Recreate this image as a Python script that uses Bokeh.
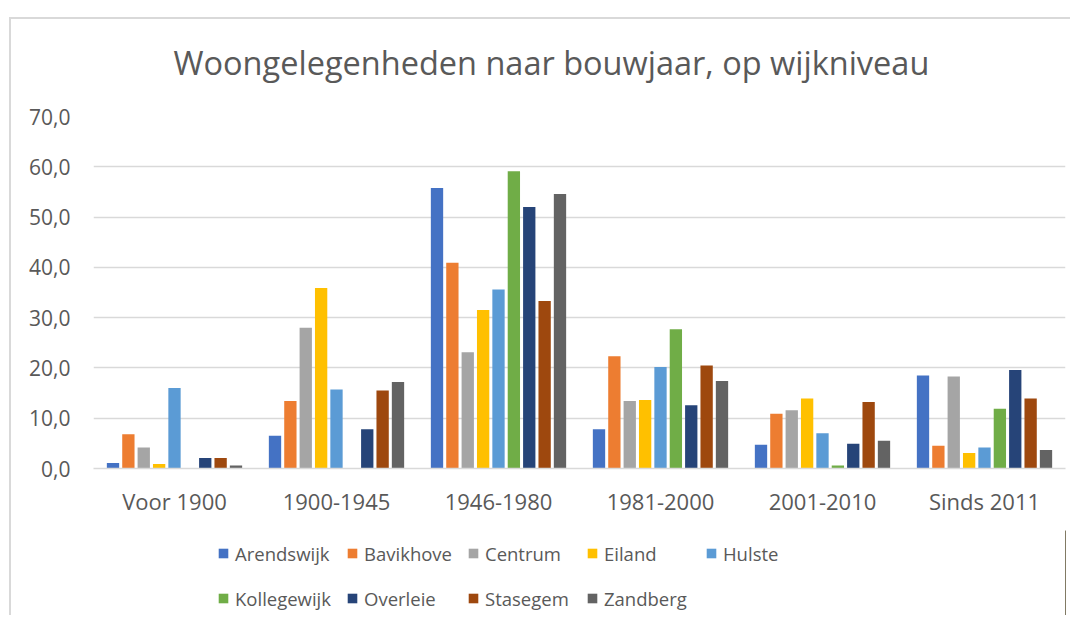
from bokeh.plotting import figure
from bokeh.models import FactorRange, Range1d, FixedTicker, Title, Legend, LegendItem
from bokeh.layouts import column
from bokeh.transform import dodge
from bokeh.embed import file_html
from bokeh.resources import INLINE

categories = ["Voor 1900", "1900-1945", "1946-1980", "1981-2000", "2001-2010", "Sinds 2011"]
tick_values = [0, 10, 20, 30, 40, 50, 60, 70]
tick_labels = ["0,0", "10,0", "20,0", "30,0", "40,0", "50,0", "60,0", "70,0"]

arendswijk  = [1.1, 6.5, 55.8, 7.8, 4.7, 18.5]
bavikhove   = [6.8, 13.4, 40.9, 22.3, 10.9, 4.5]
centrum     = [4.2, 28.0, 23.1, 13.4, 11.6, 18.3]
eiland      = [0.9, 35.9, 31.5, 13.6, 13.9, 3.1]
hulste      = [16.0, 15.7, 35.6, 20.2, 7.0, 4.2]
kollegewijk = [0.0, 0.0, 59.1, 27.7, 0.6, 11.9]
overleie    = [2.1, 7.8, 52.0, 12.6, 4.9, 19.6]
stasegem    = [2.1, 15.5, 33.3, 20.5, 13.2, 13.9]
zandberg    = [0.6, 17.2, 54.6, 17.4, 5.5, 3.7]

series_names = ["Arendswijk", "Bavikhove", "Centrum", "Eiland", "Hulste",
                "Kollegewijk", "Overleie", "Stasegem", "Zandberg"]
series_values = [arendswijk, bavikhove, centrum, eiland, hulste,
                 kollegewijk, overleie, stasegem, zandberg]
colors = ["#4472C4", "#ED7D31", "#A5A5A5", "#FFC000", "#5B9BD5",
          "#70AD47", "#264478", "#9E480E", "#636363"]

TEXT = "#595959"
GRID = "#d9d9d9"
FONT = "Open Sans"

# ---------------- main chart ----------------
p = figure(x_range=FactorRange(*categories), y_range=Range1d(0, 70), title=None,
           width=1059, height=511, output_backend="svg", toolbar_location=None,
           min_border_left=82, min_border_right=5, min_border_top=97, min_border_bottom=62)
p.outline_line_color = None
p.background_fill_color = "white"

spacer = Title(text=" ", text_font_size="1px", standoff=29)
p.add_layout(spacer, "above")
main_title = Title(text="Woongelegenheden naar bouwjaar, op wijkniveau",
                   align="left", offset=80, vertical_align="bottom", standoff=0,
                   text_font=FONT, text_font_size="32.5px", text_font_style="normal",
                   text_color=TEXT)
p.add_layout(main_title, "above")

data = {"cat": categories}
for name, vals in zip(series_names, series_values):
    data[name] = vals

pitch = 0.0949
for i, (name, col) in enumerate(zip(series_names, colors)):
    p.vbar(x=dodge("cat", (i - 4) * pitch, range=p.x_range), top=name, source=data,
           width=0.076, fill_color=col, line_color=None)

p.ygrid.ticker = FixedTicker(ticks=tick_values)
p.ygrid.grid_line_color = GRID
p.ygrid.grid_line_width = 1.3
p.xgrid.grid_line_color = None

p.yaxis.ticker = FixedTicker(ticks=tick_values)
p.yaxis.major_label_overrides = {v: l for v, l in zip(tick_values, tick_labels)}
p.yaxis.axis_line_color = None
p.yaxis.major_tick_line_color = None
p.yaxis.minor_tick_line_color = None
p.yaxis.major_tick_out = 0
p.yaxis.major_tick_in = 0
p.yaxis.major_label_standoff = 23
p.yaxis.major_label_text_font = FONT
p.yaxis.major_label_text_font_size = "21px"
p.yaxis.major_label_text_color = TEXT

p.xaxis.axis_line_color = GRID
p.xaxis.axis_line_width = 1.3
p.xaxis.major_tick_line_color = None
p.xaxis.minor_tick_line_color = None
p.xaxis.major_tick_out = 0
p.xaxis.major_tick_in = 0
p.xaxis.major_label_standoff = 17
p.xaxis.major_label_text_font = FONT
p.xaxis.major_label_text_font_size = "22px"
p.xaxis.major_label_text_color = TEXT

# ---------------- legend strip ----------------
q = figure(x_range=Range1d(0, 1), y_range=Range1d(0, 1), width=1059, height=85,
           output_backend="svg", toolbar_location=None,
           min_border_left=0, min_border_right=0, min_border_top=0, min_border_bottom=0)
q.outline_line_color = None
q.xaxis.visible = False
q.yaxis.visible = False
q.xgrid.visible = False
q.ygrid.visible = False

items = []
for name, col in zip(series_names, colors):
    # placeholder glyph outside the visible range: only its swatch is shown in the legend
    r = q.vbar(x=[10], top=[1], width=0.1, fill_color=col, line_color=None)
    items.append(LegendItem(label=name, renderers=[r]))

lg = Legend(items=items, orientation="horizontal", ncols=5, location=(124, 2),
            padding=0, margin=0, spacing=15, border_line_color=None,
            background_fill_alpha=0, glyph_width=12, glyph_height=12,
            label_height=30, label_width=86, label_standoff=6,
            label_text_font=FONT, label_text_font_size="18.5px",
            label_text_color=TEXT)
q.add_layout(lg)

layout = column(p, q, spacing=0,
                styles={"margin-left": "9px", "margin-top": "17px",
                        "border-top": "2px solid #d9d9d9",
                        "border-left": "2px solid #d9d9d9"})

open("out.html", "w").write(file_html(layout, INLINE))
